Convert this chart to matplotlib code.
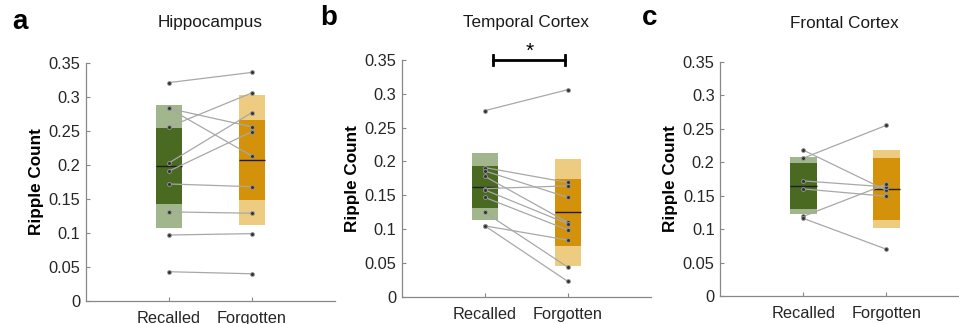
import matplotlib
matplotlib.use("Agg")
import matplotlib.pyplot as plt

plt.rcParams['font.family'] = ['Liberation Sans', 'DejaVu Sans']

conditions = ["Recalled", "Forgotten"]
regions = ["Hippocampus", "Temporal Cortex", "Frontal Cortex"]
letters = ["a", "b", "c"]

# paired values per subject (recalled, forgotten)
hpc_rec = [0.321, 0.283, 0.283, 0.256, 0.203, 0.191, 0.172, 0.131, 0.097, 0.043]
hpc_for = [0.336, 0.256, 0.213, 0.306, 0.277, 0.249, 0.168, 0.129, 0.099, 0.040]
tmp_rec = [0.275, 0.191, 0.186, 0.178, 0.160, 0.158, 0.147, 0.125, 0.105, 0.105]
tmp_for = [0.306, 0.169, 0.147, 0.110, 0.164, 0.108, 0.099, 0.044, 0.084, 0.023]
frt_rec = [0.218, 0.206, 0.172, 0.160, 0.119, 0.116]
frt_for = [0.158, 0.255, 0.163, 0.149, 0.167, 0.070]

# mean, inner band (lo, hi), outer band (lo, hi) for recalled / forgotten
hpc_mean = [0.198, 0.207]
hpc_inner = [(0.143, 0.254), (0.148, 0.266)]
hpc_outer = [(0.108, 0.288), (0.112, 0.303)]
tmp_mean = [0.163, 0.125]
tmp_inner = [(0.132, 0.194), (0.076, 0.174)]
tmp_outer = [(0.113, 0.213), (0.046, 0.204)]
frt_mean = [0.165, 0.160]
frt_inner = [(0.130, 0.199), (0.114, 0.206)]
frt_outer = [(0.122, 0.208), (0.101, 0.218)]

panels = [
    (hpc_rec, hpc_for, hpc_mean, hpc_inner, hpc_outer),
    (tmp_rec, tmp_for, tmp_mean, tmp_inner, tmp_outer),
    (frt_rec, frt_for, frt_mean, frt_inner, frt_outer),
]

dark = ["#4a6a22", "#d4920a"]
light = ["#a1b68c", "#edcb80"]
w = 0.32

fig = plt.figure(figsize=(9.59, 3.24), dpi=100)
boxes = [[0.0897, 0.071, 0.2597, 0.735],
         [0.419, 0.0833, 0.2597, 0.732],
         [0.751, 0.0864, 0.2597, 0.723]]
title_y = [0.932, 0.932, 0.926]
letter_pos = [(0.0125, 0.932), (0.334, 0.945), (0.669, 0.945)]

for i, (rec, forg, mean, inner, outer) in enumerate(panels):
    ax = fig.add_axes(boxes[i])
    xs = [1, 2]
    for j in range(2):
        ax.bar(xs[j], outer[j][1] - outer[j][0], bottom=outer[j][0], width=w,
               color=light[j], zorder=1)
        ax.bar(xs[j], inner[j][1] - inner[j][0], bottom=inner[j][0], width=w,
               color=dark[j], zorder=2)
        ax.hlines(mean[j], xs[j] - w / 2, xs[j] + w / 2, color="#1e1e1e",
                  lw=1, zorder=3)
    for r, f in zip(rec, forg):
        ax.plot([1, 2], [r, f], color="#a8a8a8", lw=0.9, zorder=4)
    ax.plot([1] * len(rec), rec, "o", ms=2.8, mfc="#333333", mec="#9a9a9a",
            mew=0.6, ls="none", zorder=5)
    ax.plot([2] * len(forg), forg, "o", ms=2.8, mfc="#333333", mec="#9a9a9a",
            mew=0.6, ls="none", zorder=5)

    ax.set_xlim(0, 3)
    ax.set_ylim(0, 0.35)
    ax.set_xticks([1, 2])
    ax.set_xticklabels(conditions)
    ax.set_yticks([0, 0.05, 0.1, 0.15, 0.2, 0.25, 0.3, 0.35])
    ax.set_yticklabels(["0", "0.05", "0.1", "0.15", "0.2", "0.25", "0.3", "0.35"])
    ax.tick_params(direction="in", length=3, width=0.8, color="#888888",
                   labelsize=11.8, labelcolor="#262626")
    ax.tick_params(axis="x", pad=7)
    ax.tick_params(axis="y", pad=4)
    for s in ["top", "right"]:
        ax.spines[s].set_visible(False)
    for s in ["left", "bottom"]:
        ax.spines[s].set_color("#888888")
        ax.spines[s].set_linewidth(0.9)
    ax.set_ylabel("Ripple Count", fontsize=12.3, fontweight="bold", labelpad=3)
    cx = boxes[i][0] + boxes[i][2] / 2
    fig.text(cx, title_y[i], regions[i], fontsize=12.3, color="#1a1a1a",
             ha="center", va="center")
    fig.text(letter_pos[i][0], letter_pos[i][1], letters[i], fontsize=20,
             fontweight="bold", va="center")

    if i == 1:
        ax.plot([1.1, 1.97], [0.35, 0.35], color="black", lw=2, clip_on=False)
        ax.plot([1.1, 1.1], [0.343, 0.357], color="black", lw=2, clip_on=False)
        ax.plot([1.97, 1.97], [0.343, 0.357], color="black", lw=2, clip_on=False)
        ax.text(1.535, 0.362, "*", fontsize=15, ha="center", va="center")

plt.savefig("out.png", dpi=100)
